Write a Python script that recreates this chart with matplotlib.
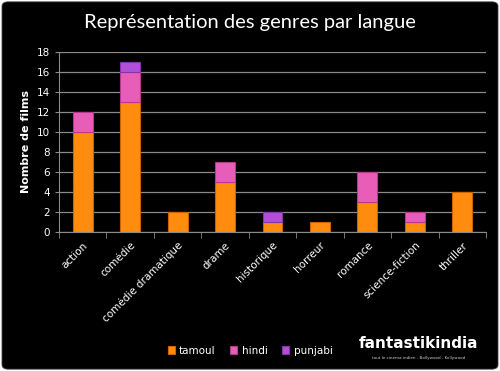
import numpy as np
import matplotlib.pyplot as plt
from matplotlib.patches import FancyBboxPatch

# données
genres = ['action', 'comédie', 'comédie dramatique', 'drame', 'historique',
          'horreur', 'romance', 'science-fiction', 'thriller']
tamoul = [10, 13, 2, 5, 1, 1, 3, 1, 4]
hindi = [2, 3, 0, 2, 0, 0, 3, 1, 0]
punjabi = [0, 1, 0, 0, 1, 0, 0, 0, 0]
langues = ['tamoul', 'hindi', 'punjabi']
couleurs = ['#FF8C0F', '#E85DB8', '#B24FD6']
bords = ['#C86400', '#B23C8C', '#8434A8']

fig = plt.figure(figsize=(5, 3.71), dpi=100)
fig.patch.set_facecolor('white')
fond = FancyBboxPatch((0.004, 0.005), 0.992, 0.99, boxstyle='round,pad=0,rounding_size=0.012',
                      transform=fig.transFigure, facecolor='black', edgecolor='#444444',
                      linewidth=0.6, zorder=-10)
fig.add_artist(fond)

ax = fig.add_axes([0.118, 0.375, 0.854, 0.485])
ax.set_facecolor('black')

x = np.arange(len(genres))
bas = np.zeros(len(genres))
for nom, vals, c, e in zip(langues, [tamoul, hindi, punjabi], couleurs, bords):
    vals = np.array(vals, dtype=float)
    m = vals > 0
    ax.bar(x[m], vals[m], width=0.42, bottom=bas[m], color=c, edgecolor=e, linewidth=0.8,
           label=nom, zorder=3)
    bas += vals

ax.set_xlim(-0.5, len(genres) - 0.5)
ax.set_ylim(0, 18)
ax.set_yticks(range(0, 19, 2))
ax.yaxis.grid(True, color='#8a8a8a', linewidth=0.9, zorder=0)
ax.set_xticks(x)
ax.set_xticklabels(genres, rotation=45, ha='right', rotation_mode='anchor')
ax.set_xticks(np.arange(len(genres) + 1) - 0.5, minor=True)
ax.tick_params(axis='x', which='major', length=0, colors='white', labelsize=7.5, pad=6)
ax.tick_params(axis='x', which='minor', length=4, color='#8a8a8a', direction='out')
ax.tick_params(axis='y', colors='white', labelsize=7.5, length=3, color='#8a8a8a')
for s in ['top', 'right']:
    ax.spines[s].set_visible(False)
ax.spines['left'].set_color('#8a8a8a')
ax.spines['bottom'].set_color('#8a8a8a')
ax.set_ylabel('Nombre de films', color='white', fontsize=8, fontweight='bold')

fig.text(0.5, 0.94, 'Représentation des genres par langue', ha='center', va='center',
         color='white', fontsize=14.5, family='Lato')

leg = fig.legend(loc='center', bbox_to_anchor=(0.5, 0.055), ncol=3, frameon=False,
                 fontsize=7.5, handlelength=0.7, handleheight=0.7, handletextpad=0.4,
                 columnspacing=1.4)
for t in leg.get_texts():
    t.set_color('white')

fig.text(0.837, 0.075, 'fantastikindia', ha='center', va='center', color='white',
         fontsize=11, fontweight='bold', family='DejaVu Sans')
fig.text(0.837, 0.035, 'tout le cinéma indien - Bollywood - Kollywood', ha='center',
         va='center', color='#cccccc', fontsize=3)

fig.savefig('out.png', dpi=100, facecolor='white')
